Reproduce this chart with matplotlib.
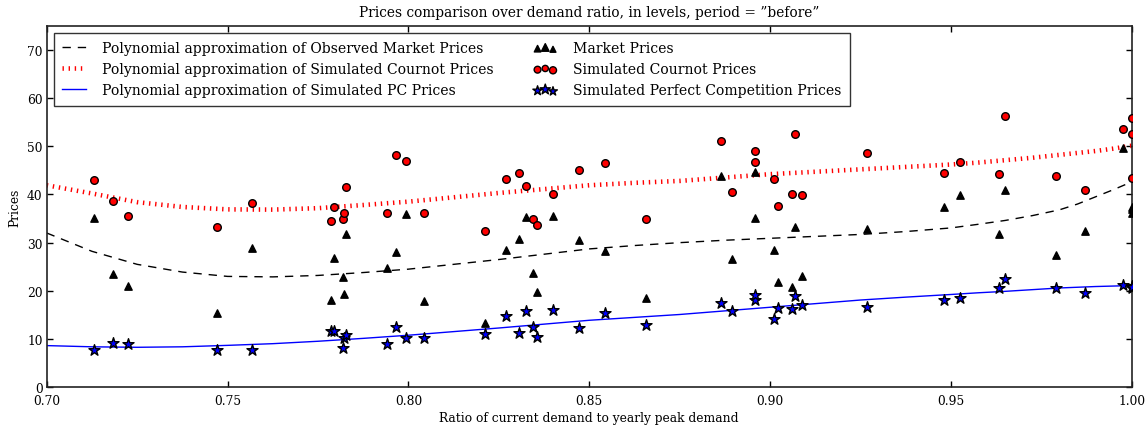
import matplotlib
matplotlib.use("Agg")
import matplotlib.pyplot as plt
from matplotlib.legend_handler import HandlerPathCollection

# ---- data ----
demand_ratio = [0.7131, 0.7183, 0.7226, 0.7471, 0.7567, 0.7785, 0.7794, 0.7818, 0.7823, 0.7827,
                0.7940, 0.7965, 0.7994, 0.8042, 0.8212, 0.8270, 0.8307, 0.8324, 0.8344, 0.8355,
                0.8399, 0.8472, 0.8545, 0.8658, 0.8864, 0.8895, 0.8958, 0.8959, 0.9010, 0.9021,
                0.9060, 0.9068, 0.9089, 0.9269, 0.9481, 0.9525, 0.9634, 0.9650, 0.9792, 0.9870,
                0.9976, 1.0000, 1.0000, 1.0000]
market_prices = [35.2, 23.6, 21.0, 15.45, 28.9, 18.2, 26.9, 22.9, 19.25, 31.8,
                 24.8, 28.1, 35.9, 17.9, 13.4, 28.5, 30.8, 35.3, 23.7, 19.7,
                 35.6, 30.55, 28.3, 18.5, 43.8, 26.7, 35.2, 44.6, 28.4, 21.8,
                 20.8, 33.25, 23.1, 32.85, 37.3, 39.8, 31.7, 40.9, 27.4, 32.4,
                 49.6, 37.3, 36.2, 37.0]
cournot_prices = [43.0, 38.7, 35.5, 33.2, 38.2, 34.4, 37.3, 34.8, 36.2, 41.6,
                  36.2, 48.1, 47.0, 36.2, 32.35, 43.1, 44.4, 41.85, 34.8, 33.7,
                  40.0, 45.1, 46.5, 34.8, 51.1, 40.4, 46.8, 49.1, 43.1, 37.6,
                  40.1, 52.6, 39.8, 48.6, 44.5, 46.7, 44.2, 56.2, 43.9, 41.0,
                  53.5, 55.8, 52.5, 43.45]
pc_prices = [7.8, 9.1, 8.9, 7.75, 7.8, 11.6, 11.7, 8.2, 10.25, 10.9,
             9.0, 12.5, 10.3, 10.3, 11.1, 14.75, 11.2, 15.8, 12.6, 10.45,
             16.1, 12.2, 15.4, 12.95, 17.5, 15.8, 18.1, 19.2, 14.2, 16.5,
             16.2, 19.0, 17.05, 16.7, 18.15, 18.5, 20.5, 22.45, 20.6, 19.5,
             21.3, 21.0, 20.6, 20.8]

# polynomial approximation curves
curve_x = [0.700, 0.7125, 0.725, 0.7375, 0.750, 0.7625, 0.775, 0.7875, 0.800, 0.8125, 0.825,
           0.8375, 0.850, 0.8625, 0.875, 0.8875, 0.900, 0.9125, 0.925, 0.9375, 0.950,
           0.9575, 0.965, 0.9725, 0.980, 0.985, 0.990, 0.995, 1.000]
curve_market = [32.0, 28.2, 25.5, 23.9, 23.0, 22.9, 23.2, 23.8, 24.5, 25.5, 26.5,
                27.6, 28.7, 29.4, 30.0, 30.5, 30.9, 31.3, 31.7, 32.3, 33.05,
                33.8, 34.6, 35.6, 36.8, 38.0, 39.5, 41.0, 42.6]
curve_cournot = [41.9, 40.2, 38.4, 37.4, 36.9, 36.85, 37.15, 37.8, 38.5, 39.4, 40.3,
                 41.1, 41.9, 42.4, 42.8, 43.5, 44.2, 44.7, 45.2, 45.7, 46.2,
                 46.6, 47.1, 47.6, 48.2, 48.6, 49.0, 49.5, 50.1]
curve_pc = [8.65, 8.4, 8.3, 8.4, 8.7, 9.05, 9.55, 10.15, 10.8, 11.55, 12.3,
            13.1, 13.9, 14.5, 15.1, 15.85, 16.6, 17.35, 18.1, 18.7, 19.25,
            19.6, 19.9, 20.25, 20.6, 20.75, 20.9, 21.0, 21.1]

x_ticks = [0.70, 0.75, 0.80, 0.85, 0.90, 0.95, 1.00]
x_tick_labels = ["0.70", "0.75", "0.80", "0.85", "0.90", "0.95", "1.00"]
y_ticks = [0, 10, 20, 30, 40, 50, 60, 70]

title_text = "Prices comparison over demand ratio, in levels, period = \u201dbefore\u201d"
x_label = "Ratio of current demand to yearly peak demand"
y_label = "Prices"
line_labels = ["Polynomial approximation of Observed Market Prices",
               "Polynomial approximation of Simulated Cournot Prices",
               "Polynomial approximation of Simulated PC Prices"]
scatter_labels = ["Market Prices", "Simulated Cournot Prices",
                  "Simulated Perfect Competition Prices"]

# ---- style ----
plt.rcParams["font.family"] = ["DejaVu Serif"]
plt.rcParams["lines.scale_dashes"] = False
FS = 8.8
LFS = 10.1

fig = plt.figure(figsize=(11.46, 4.27), dpi=100)
ax = fig.add_axes([0.0408, 0.0906, 0.9467, 0.847])

l1, = ax.plot(curve_x, curve_market, color="k", lw=1.0, dashes=(6, 5), dash_capstyle="butt")
l2, = ax.plot(curve_x, curve_cournot, color="r", lw=3.3, dashes=(1, 3.4), dash_capstyle="butt")
l3, = ax.plot(curve_x, curve_pc, color="b", lw=1.0)

s1 = ax.scatter(demand_ratio, market_prices, marker="^", s=28, c="k", edgecolors="k", linewidths=1, zorder=3)
s2 = ax.scatter(demand_ratio, cournot_prices, marker="o", s=30, c="r", edgecolors="k", linewidths=1, zorder=3)
s3 = ax.scatter(demand_ratio, pc_prices, marker="*", s=70, c="b", edgecolors="k", linewidths=1, zorder=3)

ax.set_xlim(0.70, 1.00)
ax.set_ylim(0, 75)
ax.set_xticks(x_ticks)
ax.set_xticklabels(x_tick_labels)
ax.set_yticks(y_ticks)
ax.tick_params(direction="in", top=True, right=True, length=4, width=1, labelsize=FS)
ax.tick_params(axis="x", pad=5)
ax.tick_params(axis="y", pad=3)
for sp in ax.spines.values():
    sp.set_linewidth(1.2)
    sp.set_color("#222222")

ax.set_title(title_text, fontsize=9.9, pad=7)
ax.set_xlabel(x_label, fontsize=FS, labelpad=3)
ax.set_ylabel(y_label, fontsize=FS, labelpad=4)

hmap = {s1: HandlerPathCollection(sizes=[22, 30, 18]),
        s2: HandlerPathCollection(sizes=[24, 20, 26]),
        s3: HandlerPathCollection(sizes=[50, 60, 44])}
leg = ax.legend([l1, l2, l3, s1, s2, s3], line_labels + scatter_labels,
                loc="upper left", ncol=2, fontsize=LFS, frameon=True, fancybox=False,
                scatterpoints=3, scatteryoffsets=[0.375, 0.5, 0.3125],
                handlelength=1.7, handletextpad=1.1, columnspacing=2.85,
                labelspacing=0.5, borderpad=0.62, borderaxespad=0.5,
                handler_map=hmap)
leg.get_frame().set_edgecolor("k")
leg.get_frame().set_linewidth(1.0)

fig.savefig("out.png", dpi=100)
